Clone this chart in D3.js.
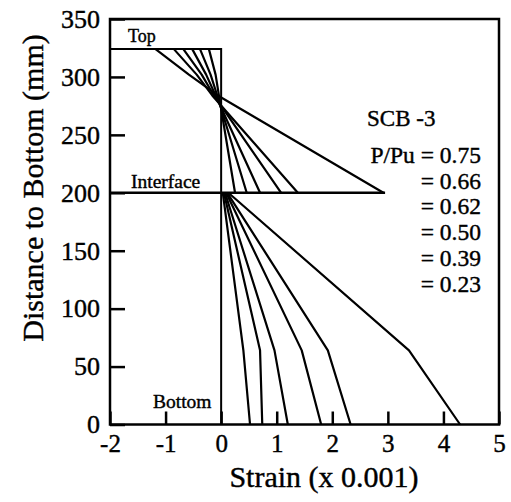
<!DOCTYPE html>
<html>
<head>
<meta charset="utf-8">
<script src="https://cdn.jsdelivr.net/npm/d3@7"></script>
<style>
  body { margin: 0; background: #fff; }
  svg { font-family: "Liberation Serif", "Times New Roman", serif; }
  svg text { fill: #000; stroke: #000; stroke-width: 0.4px; }
  .tick line { stroke: #000; stroke-width: 2.5px; }
</style>
</head>
<body>
<svg id="chart" width="511" height="502"></svg>
<script>
// ticks
const xTicks = [-2, -1, 0, 1, 2, 3, 4, 5];
const yTicks = [0, 50, 100, 150, 200, 250, 300, 350];

// load levels (P/Pu)
const loads = ["0.75", "0.66", "0.62", "0.50", "0.39", "0.23"];

// slab part: depth (mm) of each reading, strain (x 0.001) per load
const slabDepth = [324, 302, 284, 200];
const slabStrain = [
    [-1.18, -0.58, -0.06, 2.92],
    [-0.85, -0.44, -0.16, 1.38],
    [-0.68, -0.35, -0.13, 1.08],
    [-0.52, -0.27, -0.10, 0.70],
    [-0.38, -0.19, -0.07, 0.46],
    [-0.22, -0.10, -0.04, 0.25]
];

// beam part
const beamDepth = [200, 64, 0];
const beamStrain = [
    [0.13, 3.38, 4.30],
    [0.11, 1.92, 2.33],
    [0.09, 1.45, 1.80],
    [0.07, 0.96, 1.20],
    [0.05, 0.70, 0.74],
    [0.03, 0.40, 0.52]
];

// reference lines
const topLevel = 324;
const interfaceLevel = 200;
const interfaceEnd = 2.95;

const margin = { left: 110, right: 12, top: 19, bottom: 77.5 };
const width = 511, height = 502;
const serif = '"Liberation Serif", "Times New Roman", serif';

const x = d3.scaleLinear().domain([-2, 5]).range([margin.left, width - margin.right]);
const y = d3.scaleLinear().domain([0, 350]).range([height - margin.bottom, margin.top]);

const svg = d3.select("#chart");

// axes, ticks pointing inward
svg.append("g")
    .attr("transform", `translate(0,${y(0)})`)
    .call(d3.axisBottom(x).tickValues(xTicks).tickSize(-13).tickSizeOuter(0).tickPadding(10)
        .tickFormat(d => String(d)))
    .attr("font-family", serif)
    .attr("font-size", 25)
    .call(g => g.select(".domain").remove());

svg.append("g")
    .attr("transform", `translate(${x(-2)},0)`)
    .call(d3.axisLeft(y).tickValues(yTicks).tickSize(-15).tickSizeOuter(0).tickPadding(10))
    .attr("font-family", serif)
    .attr("font-size", 26)
    .call(g => g.select(".domain").remove());

// frame
svg.append("rect")
    .attr("x", x(-2)).attr("y", y(350))
    .attr("width", x(5) - x(-2)).attr("height", y(0) - y(350))
    .attr("fill", "none").attr("stroke", "#000").attr("stroke-width", 2.5);

const line = d3.line().x(d => x(d[0])).y(d => y(d[1]));

// reference lines: top, zero strain, interface
svg.append("path").attr("d", line([[-2, topLevel], [0, topLevel], [0, 0]]))
    .attr("fill", "none").attr("stroke", "#000").attr("stroke-width", 2);
svg.append("path").attr("d", line([[-2, interfaceLevel], [interfaceEnd, interfaceLevel]]))
    .attr("fill", "none").attr("stroke", "#000").attr("stroke-width", 2.5);

// strain profiles
const profiles = svg.append("g").attr("fill", "none").attr("stroke", "#000")
    .attr("stroke-width", 2.2).attr("stroke-linejoin", "round");

profiles.selectAll(".slab").data(slabStrain).join("path")
    .attr("class", "slab")
    .attr("d", s => line(s.map((v, i) => [v, slabDepth[i]])));

profiles.selectAll(".beam").data(beamStrain).join("path")
    .attr("class", "beam")
    .attr("d", s => line(s.map((v, i) => [v, beamDepth[i]])));

// labels inside
svg.append("text").attr("x", 128).attr("y", 42).style("font-size", "18px").text("Top");
svg.append("text").attr("x", 131).attr("y", 188).style("font-size", "19.5px").text("Interface");
svg.append("text").attr("x", 153).attr("y", 408).style("font-size", "19.5px").text("Bottom");

// legend
svg.append("text").attr("x", 367).attr("y", 125.5).style("font-size", "23px").text("SCB -3");
svg.selectAll(".leg").data(loads).join("text")
    .attr("class", "leg")
    .attr("x", 481)
    .attr("y", (d, i) => 163 + i * 25.7)
    .attr("text-anchor", "end")
    .style("font-size", "23.5px")
    .text((d, i) => (i === 0 ? "P/Pu = " : "= ") + d);

// axis titles
svg.append("text")
    .attr("x", 324).attr("y", 487)
    .attr("text-anchor", "middle")
    .style("font-size", "30px")
    .text("Strain (x 0.001)");

svg.append("text")
    .attr("transform", "translate(43,188) rotate(-90)")
    .attr("text-anchor", "middle")
    .style("font-size", "30px")
    .text("Distance to Bottom (mm)");
</script>
</body>
</html>
